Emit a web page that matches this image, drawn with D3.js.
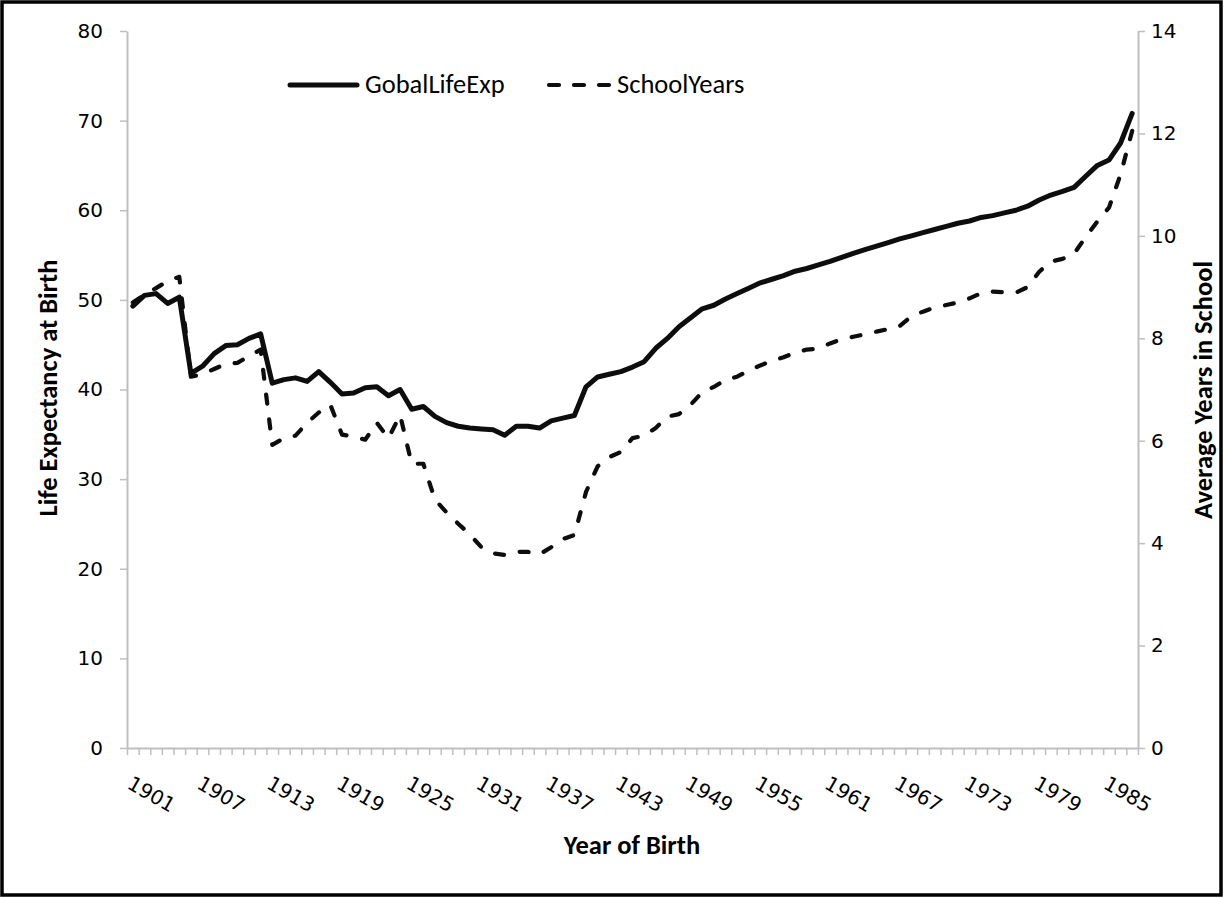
<!DOCTYPE html>
<html>
<head>
<meta charset="utf-8">
<script src="https://cdn.jsdelivr.net/npm/d3@7"></script>
<style>
  body { margin: 0; background: #fff; }
  svg { display: block; }
</style>
</head>
<body>
<svg id="chart" width="1225" height="898"></svg>
<script>
// years of birth, one point per year
const years = d3.range(1901, 1988);

// global life expectancy at birth (left axis)
const lifeExp = [
  49.3, 50.5, 50.7, 49.6, 50.3, 41.8, 42.6, 44.0, 44.9, 45.0,
  45.7, 46.2, 40.7, 41.1, 41.3, 40.9, 42.0, 40.8, 39.5, 39.6,
  40.2, 40.3, 39.3, 40.0, 37.8, 38.1, 37.0, 36.3, 35.9, 35.7,
  35.6, 35.5, 34.9, 35.9, 35.9, 35.7, 36.5, 36.8, 37.1, 40.3,
  41.4, 41.7, 42.0, 42.5, 43.1, 44.6, 45.7, 47.0, 48.0, 49.0,
  49.4, 50.1, 50.7, 51.3, 51.9, 52.3, 52.7, 53.2, 53.5, 53.9,
  54.3, 54.75, 55.2, 55.6, 56.0, 56.4, 56.8, 57.15, 57.5, 57.85,
  58.2, 58.55, 58.8, 59.2, 59.4, 59.7, 60.0, 60.45, 61.15, 61.7,
  62.1, 62.55, 63.8, 65.0, 65.6, 67.5, 70.8
];

// average years in school (right axis)
const schoolYears = [
  8.7, 8.85, 8.98, 9.12, 9.2, 7.25, 7.3, 7.4, 7.5, 7.52,
  7.65, 7.78, 5.92, 6.05, 6.1, 6.35, 6.55, 6.7, 6.12, 6.08,
  6.02, 6.35, 6.05, 6.5, 5.55, 5.55, 4.85, 4.6, 4.38, 4.17,
  3.92, 3.8, 3.77, 3.83, 3.83, 3.78, 3.92, 4.08, 4.16, 5.0,
  5.5, 5.68, 5.78, 6.05, 6.1, 6.25, 6.47, 6.52, 6.7, 6.95,
  7.05, 7.19, 7.25, 7.37, 7.47, 7.56, 7.63, 7.72, 7.78, 7.8,
  7.9, 7.98, 8.03, 8.08, 8.13, 8.18, 8.24, 8.43, 8.52, 8.6,
  8.65, 8.7, 8.78, 8.88, 8.91, 8.9, 8.89, 9.0, 9.3, 9.5,
  9.55, 9.65, 9.98, 10.28, 10.55, 11.2, 12.05
];

const leftTicks = [0, 10, 20, 30, 40, 50, 60, 70, 80];
const rightTicks = [0, 2, 4, 6, 8, 10, 12, 14];
const labelYears = d3.range(1901, 1986, 6);

const seriesNames = ["GobalLifeExp", "SchoolYears"];

const svg = d3.select("#chart");
const plotLeft = 127, plotRight = 1138, plotTop = 31, plotBottom = 748;
const axisGrey = "#bfbfbf";
const lineColor = "#0d0d0d";
const tickFont = "'DejaVu Sans', Verdana, sans-serif";
const titleFont = "Carlito, Lato, 'Open Sans', sans-serif";

// outer frame
svg.append("rect")
  .attr("x", 2).attr("y", 2)
  .attr("width", 1219).attr("height", 893)
  .attr("fill", "#fff")
  .attr("stroke", "#000")
  .attr("stroke-width", 3.5);

// scales: category index (boundaries) and the two value axes
const xIdx = d3.scaleLinear().domain([0, years.length]).range([plotLeft, plotRight]);
const xYear = yr => xIdx(years.indexOf(yr) + 0.5);
const yLeft = d3.scaleLinear().domain([0, 80]).range([plotBottom, plotTop]);
const yRight = d3.scaleLinear().domain([0, 14]).range([plotBottom, plotTop]);

// left axis
const gL = svg.append("g")
  .attr("transform", `translate(${plotLeft},0)`)
  .call(d3.axisLeft(yLeft).tickValues(leftTicks).tickSize(7).tickSizeOuter(0).tickPadding(17));

// right axis
const gR = svg.append("g")
  .attr("transform", `translate(${plotRight},0)`)
  .call(d3.axisRight(yRight).tickValues(rightTicks).tickSize(7).tickSizeOuter(0).tickPadding(6));

// bottom axis: tick marks at every category boundary
const gB = svg.append("g")
  .attr("transform", `translate(0,${plotBottom})`)
  .call(d3.axisBottom(xIdx).tickValues(d3.range(years.length + 1)).tickSize(7)
    .tickSizeOuter(0).tickFormat(""));

[gL, gR, gB].forEach(g => {
  g.selectAll(".domain").attr("stroke", axisGrey).attr("stroke-width", 2);
  g.selectAll(".tick line").attr("stroke", axisGrey).attr("stroke-width", 1.5);
  g.selectAll(".tick text")
    .attr("fill", "#000")
    .style("font-family", tickFont)
    .style("font-size", "20px");
});

// rotated year labels
svg.append("g").selectAll("text")
  .data(labelYears)
  .enter()
  .append("text")
  .attr("transform", d => `translate(${xYear(d) + 1},774) rotate(30)`)
  .attr("dy", "0.78em")
  .attr("fill", "#000")
  .style("font-family", tickFont)
  .style("font-size", "20px")
  .text(d => d);

// axis titles
svg.append("text")
  .attr("transform", `translate(57,388) rotate(-90)`)
  .attr("text-anchor", "middle")
  .style("font-family", titleFont).style("font-weight", "bold").style("font-size", "26.5px")
  .text("Life Expectancy at Birth");

svg.append("text")
  .attr("transform", `translate(1212,390) rotate(-90)`)
  .attr("text-anchor", "middle")
  .style("font-family", titleFont).style("font-weight", "bold").style("font-size", "26.5px")
  .text("Average Years in School");

svg.append("text")
  .attr("x", 632).attr("y", 854)
  .attr("text-anchor", "middle")
  .style("font-family", titleFont).style("font-weight", "bold").style("font-size", "26.5px")
  .text("Year of Birth");

// lines
const lifeLine = d3.line()
  .x((d, i) => xIdx(i + 0.5))
  .y(d => yLeft(d));

const schoolLine = d3.line()
  .x((d, i) => xIdx(i + 0.5))
  .y(d => yRight(d));

svg.append("path")
  .datum(schoolYears)
  .attr("d", schoolLine)
  .attr("fill", "none")
  .attr("stroke", lineColor)
  .attr("stroke-width", 4.2)
  .attr("stroke-dasharray", "9,16")
  .attr("stroke-linecap", "round")
  .attr("stroke-linejoin", "round");

svg.append("path")
  .datum(lifeExp)
  .attr("d", lifeLine)
  .attr("fill", "none")
  .attr("stroke", lineColor)
  .attr("stroke-width", 5)
  .attr("stroke-linecap", "round")
  .attr("stroke-linejoin", "round");

// legend
const legend = svg.append("g");
legend.append("line")
  .attr("x1", 290).attr("x2", 357).attr("y1", 85).attr("y2", 85)
  .attr("stroke", lineColor).attr("stroke-width", 5).attr("stroke-linecap", "round");
legend.append("line")
  .attr("x1", 549).attr("x2", 613).attr("y1", 85).attr("y2", 85)
  .attr("stroke", lineColor).attr("stroke-width", 4.2)
  .attr("stroke-dasharray", "10,15").attr("stroke-linecap", "round");

legend.selectAll("text")
  .data(seriesNames)
  .enter()
  .append("text")
  .attr("x", (d, i) => i === 0 ? 365 : 617)
  .attr("y", 93)
  .style("font-family", titleFont)
  .style("font-size", "26.5px")
  .text(d => d);
</script>
</body>
</html>
